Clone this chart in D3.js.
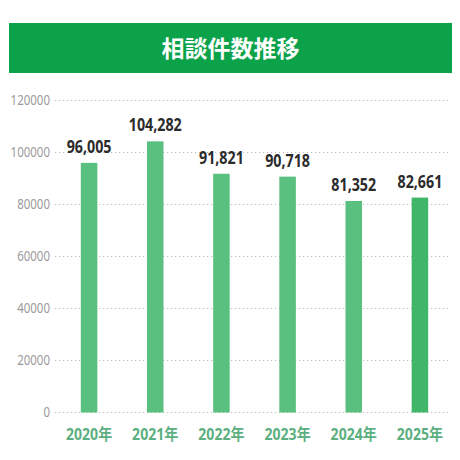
<!DOCTYPE html>
<html>
<head>
<meta charset="utf-8">
<script src="https://cdn.jsdelivr.net/npm/d3@7"></script>
<style>
  body { margin: 0; background: #fff; }
  svg { display: block; }
</style>
</head>
<body>
<div id="chart"></div>
<script>
// data
var years = ["2020年", "2021年", "2022年", "2023年", "2024年", "2025年"];
var counts = [96005, 104282, 91821, 90718, 81352, 82661];
var yTicks = [0, 20000, 40000, 60000, 80000, 100000, 120000];
var title = "相談件数推移";

var width = 460, height = 460;
var sans = "'Noto Sans', 'Noto Sans CJK JP', sans-serif";

var svg = d3.select("#chart")
  .append("svg")
  .attr("width", width)
  .attr("height", height);

// title banner
svg.append("rect")
  .attr("x", 9).attr("y", 23)
  .attr("width", 443).attr("height", 50)
  .attr("fill", "#0ba24a");

svg.append("text")
  .attr("x", 230.5).attr("y", 57)
  .attr("text-anchor", "middle")
  .style("font-family", "'Noto Sans CJK JP', sans-serif")
  .style("font-weight", "bold")
  .style("font-size", "23px")
  .style("fill", "#fff")
  .text(title);

var x = d3.scaleBand()
  .domain(years)
  .range([56, 453])
  .paddingInner(0.75)
  .paddingOuter(0.375);

var y = d3.scaleLinear()
  .domain([0, 120000])
  .range([412.5, 100.5]);

// dotted grid lines
svg.append("g")
  .selectAll("line")
  .data(yTicks)
  .enter()
  .append("line")
    .attr("x1", 55).attr("x2", 451)
    .attr("y1", function(d){ return y(d); })
    .attr("y2", function(d){ return y(d); })
    .style("stroke", "#bcbcbc")
    .style("stroke-width", 1.2)
    .style("stroke-dasharray", "1.2,2.8");

// y axis labels, squeezed a bit to look like the condensed face of the original
var yAxis = svg.append("g")
  .attr("transform", "translate(50,0)")
  .call(d3.axisLeft(y).tickValues(yTicks).tickSize(0).tickPadding(0).tickFormat(d3.format("d")));
yAxis.select(".domain").remove();
yAxis.selectAll("text")
  .attr("transform", "scale(0.82,1)")
  .style("font-family", sans)
  .style("font-size", "14px")
  .style("fill", "#9a9a9a");

// bars
svg.selectAll(".bar")
  .data(counts)
  .enter()
  .append("rect")
    .attr("class", "bar")
    .attr("x", function(d, i){ return x(years[i]); })
    .attr("width", x.bandwidth())
    .attr("y", function(d){ return y(d); })
    .attr("height", function(d){ return y(0) - y(d); })
    .style("fill", function(d, i){ return i == years.length - 1 ? "#3fb66a" : "#59c07f"; });

// value labels
svg.selectAll(".val")
  .data(counts)
  .enter()
  .append("text")
    .attr("class", "val")
    .attr("transform", function(d, i){
      return "translate(" + (x(years[i]) + x.bandwidth() / 2) + "," + (y(d) - 10) + ") scale(0.84,1)";
    })
    .attr("text-anchor", "middle")
    .style("font-family", sans)
    .style("font-weight", "bold")
    .style("font-size", "17px")
    .style("fill", "#2b2b2b")
    .text(function(d){ return d3.format(",")(d); });

// x axis labels
var xAxis = svg.append("g")
  .attr("transform", "translate(0,412.5)")
  .call(d3.axisBottom(x).tickSize(0).tickPadding(0));
xAxis.select(".domain").remove();
xAxis.selectAll("text")
  .attr("dy", null)
  .attr("y", 27.5)
  .attr("transform", "scale(0.88,1)")
  .style("font-family", sans)
  .style("font-weight", "bold")
  .style("font-size", "16px")
  .style("fill", "#5caf80");
</script>
</body>
</html>
